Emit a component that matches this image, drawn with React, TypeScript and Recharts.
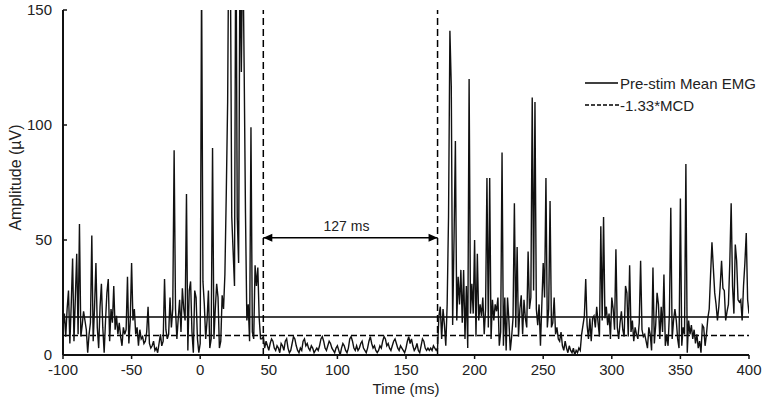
import React from 'react';
import { LineChart, Line, XAxis, YAxis, ReferenceLine, Legend } from 'recharts';

const FONT = '"Liberation Sans", Arial, sans-serif';

// EMG trace, 1 ms per sample starting at -100 ms
const START_MS = -100;

// -100 .. -51 ms
const emgBaselineA = [
  12, 18, 8, 20, 28, 5, 22, 42, 6, 25,
  44, 9, 57, 8, 13, 19, 15, 11, 1, 9,
  14, 52, 6, 21, 40, 12, 3, 21, 31, 12,
  1, 15, 27, 33, 6, 20, 14, 30, 11, 17,
  9, 14, 8, 4, 12, 9, 11, 34, 5, 15,
];

// -50 .. -1 ms
const emgBaselineB = [
  40, 15, 20, 9, 12, 4, 11, 7, 8, 5,
  6, 10, 21, 5, 3, 4, 6, 2, 3, 1,
  5, 9, 4, 6, 33, 11, 7, 9, 25, 12,
  20, 89, 20, 7, 16, 24, 10, 29, 20, 15,
  70, 2, 28, 32, 10, 1, 28, 25, 7, 1,
];

// 0 .. 46 ms (stimulus response, large bursts clip the top)
const emgResponse = [
  5, 165, 32, 22, 7, 15, 28, 3, 7, 90,
  7, 20, 31, 25, 3, 6, 26, 20, 35, 70,
  110, 200, 170, 60, 45, 30, 200, 60, 40, 180,
  123, 185, 127, 62, 15, 22, 6, 99, 10, 7,
  39, 30, 38, 16, 7, 7, 8,
];

// 47 .. 173 ms (silent period)
const emgSilent = [
  3, 6, 4, 2, 5, 7, 6, 3, 2, 4,
  3, 1, 5, 4, 2, 6, 7, 3, 1, 2,
  5, 8, 7, 4, 2, 1, 3, 2, 6, 7,
  4, 5, 3, 2, 4, 3, 1, 2, 3, 2,
  4, 7, 8, 6, 3, 2, 4, 6, 5, 3,
  2, 1, 3, 4, 2, 0, 3, 5, 4, 2,
  1, 3, 7, 8, 6, 3, 2, 4, 2, 3,
  5, 6, 3, 2, 1, 3, 6, 8, 5, 3,
  4, 2, 1, 2, 4, 3, 6, 8, 7, 4,
  5, 3, 2, 4, 6, 7, 5, 3, 2, 4,
  3, 2, 1, 3, 6, 8, 5, 7, 4, 2,
  3, 5, 2, 1, 4, 7, 6, 3, 2, 3,
  2, 3, 2, 4, 3, 2, 3,
];

// 174 .. 400 ms (return of activity)
const emgRecovery = [
  17, 21, 7, 20, 13, 4, 22, 60, 141, 117,
  13, 50, 93, 15, 34, 22, 37, 14, 37, 7,
  30, 3, 120, 18, 31, 18, 50, 8, 44, 15,
  22, 17, 25, 9, 20, 77, 12, 77, 7, 24,
  15, 22, 19, 25, 4, 10, 88, 4, 25, 2,
  25, 15, 2, 8, 16, 66, 12, 47, 8, 20,
  26, 9, 24, 16, 12, 45, 20, 25, 112, 28,
  110, 20, 13, 22, 4, 22, 40, 25, 77, 12,
  20, 67, 12, 14, 25, 9, 12, 7, 6, 10,
  4, 2, 6, 3, 1, 4, 2, 1, 3, 0,
  2, 1, 3, 2, 9, 13, 17, 33, 13, 7,
  16, 6, 16, 17, 12, 21, 14, 8, 56, 15,
  60, 16, 21, 13, 18, 7, 25, 20, 11, 46,
  12, 7, 14, 19, 11, 8, 30, 27, 8, 39,
  10, 15, 6, 12, 9, 7, 14, 41, 11, 8,
  9, 6, 3, 12, 9, 2, 38, 5, 13, 27,
  22, 7, 21, 10, 35, 4, 9, 4, 18, 64,
  7, 15, 20, 15, 7, 3, 68, 4, 12, 9,
  83, 1, 15, 9, 13, 7, 11, 5, 9, 3,
  6, 1, 13, 12, 4, 9, 16, 20, 35, 49,
  38, 27, 22, 15, 21, 30, 41, 29, 28, 15,
  19, 22, 40, 66, 30, 18, 48, 41, 24, 23,
  24, 15, 30, 40, 53, 24, 18,
];

const emgTrace = [...emgBaselineA, ...emgBaselineB, ...emgResponse, ...emgSilent, ...emgRecovery];
const data = emgTrace.map((v, i) => ({ time: START_MS + i, emg: v }));

const xTicks = [-100, -50, 0, 50, 100, 150, 200, 250, 300, 350, 400];
const yTicks = [0, 50, 100, 150];

const preStimMean = 16.5;
const mcdThreshold = 8.5;
const silentStart = 46;
const silentEnd = 173;
const silentLabel = '127 ms';
const arrowLevel = 51;

const DurationArrow = (props: any) => {
  const { x1, y1, x2, y2 } = props;
  const head = 9;
  return (
    <g>
      <line x1={x1} y1={y1} x2={x2} y2={y2} stroke="#000" strokeWidth={1.5} />
      <polygon points={`${x1},${y1} ${x1 + head},${y1 - 4} ${x1 + head},${y1 + 4}`} fill="#000" />
      <polygon points={`${x2},${y2} ${x2 - head},${y2 - 4} ${x2 - head},${y2 + 4}`} fill="#000" />
      <text
        x={(x1 + x2) / 2 - 4}
        y={y1 - 12}
        textAnchor="middle"
        dominantBaseline="central"
        fontFamily={FONT}
        fontSize={14}
        fill="#222"
      >
        {silentLabel}
      </text>
    </g>
  );
};

const renderLegend = () => (
  <svg width={185} height={46} style={{ overflow: 'visible' }}>
    <line x1={0} y1={11} x2={33} y2={11} stroke="#000" strokeWidth={1.5} />
    <text x={35} y={11} dominantBaseline="central" fontFamily={FONT} fontSize={15} fill="#222">
      Pre-stim Mean EMG
    </text>
    <line x1={0} y1={33} x2={35} y2={33} stroke="#000" strokeWidth={1.5} strokeDasharray="4 2" />
    <text x={35} y={33} dominantBaseline="central" fontFamily={FONT} fontSize={15} fill="#222">
      -1.33*MCD
    </text>
  </svg>
);

export default function App() {
  return (
    <div style={{ position: 'absolute', left: 0, top: 0, width: 767, height: 406, background: '#fff' }}>
      <LineChart width={767} height={406} data={data} margin={{ top: 10, right: 18, bottom: 21, left: 0 }}>
        <XAxis
          dataKey="time"
          type="number"
          domain={[-100, 400]}
          ticks={xTicks}
          allowDataOverflow
          height={30}
          axisLine={{ stroke: '#111', strokeWidth: 2 }}
          tickLine={{ stroke: '#111', strokeWidth: 1.5 }}
          tickSize={4}
          tickMargin={5}
          tick={{ fontSize: 15, fill: '#222', fontFamily: FONT }}
          label={{
            value: 'Time (ms)',
            content: ({ viewBox }: any) => (
              <text
                x={viewBox.x + viewBox.width / 2}
                y={viewBox.y + 33}
                textAnchor="middle"
                dominantBaseline="central"
                fontFamily={FONT}
                fontSize={15}
                fill="#222"
              >
                Time (ms)
              </text>
            ),
          }}
        />
        <YAxis
          type="number"
          domain={[0, 150]}
          ticks={yTicks}
          allowDataOverflow
          width={63}
          axisLine={{ stroke: '#111', strokeWidth: 2 }}
          tickLine={{ stroke: '#111', strokeWidth: 1.5 }}
          tickSize={-4}
          tickMargin={15}
          tick={{ fontSize: 15, fill: '#222', fontFamily: FONT }}
          label={{
            value: 'Amplitude (µV)',
            content: ({ viewBox }: any) => (
              <text
                transform={`translate(15, ${viewBox.y + viewBox.height / 2 - 5}) rotate(-90)`}
                textAnchor="middle"
                dominantBaseline="central"
                fontFamily={FONT}
                fontSize={16}
                fill="#222"
              >
                Amplitude (µV)
              </text>
            ),
          }}
        />
        <ReferenceLine y={preStimMean} stroke="#000" strokeWidth={1.5} />
        <ReferenceLine y={mcdThreshold} stroke="#000" strokeWidth={1.5} strokeDasharray="6 3" />
        <ReferenceLine x={silentStart} stroke="#000" strokeWidth={1.5} strokeDasharray="7 4" />
        <ReferenceLine x={silentEnd} stroke="#000" strokeWidth={1.5} strokeDasharray="7 4" />
        <Line
          type="linear"
          dataKey="emg"
          stroke="#111"
          strokeWidth={1.4}
          dot={false}
          activeDot={false}
          isAnimationActive={false}
        />
        <ReferenceLine
          segment={[
            { x: silentStart, y: arrowLevel },
            { x: silentEnd, y: arrowLevel },
          ]}
          shape={DurationArrow}
        />
        <Legend
          verticalAlign="middle"
          align="center"
          content={renderLegend}
          wrapperStyle={{ left: 585, top: 72, width: 185 }}
        />
      </LineChart>
    </div>
  );
}
